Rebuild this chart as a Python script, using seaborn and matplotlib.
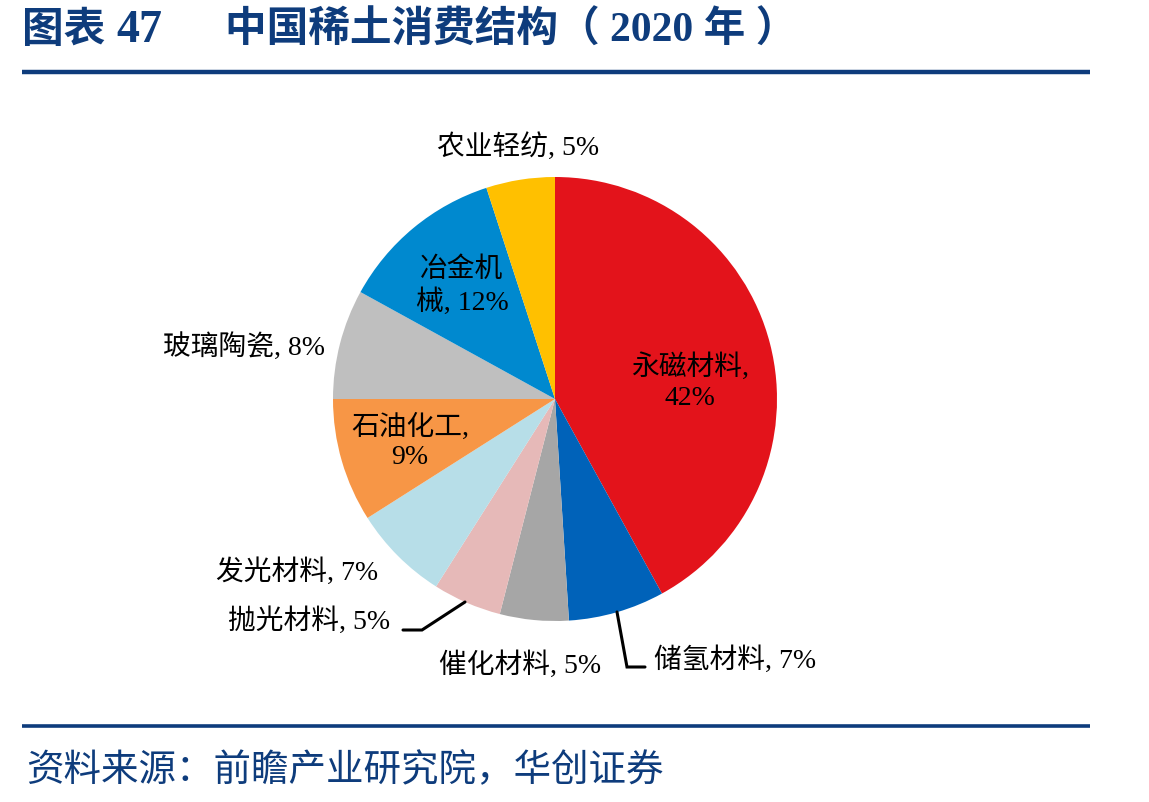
import matplotlib.pyplot as plt
import seaborn as sns

sns.set_theme(style="white")
plt.rcParams['font.family'] = ['Liberation Serif', 'Noto Sans CJK SC', 'DejaVu Sans']

# data (clockwise from 12 o'clock)
categories = ["永磁材料", "储氢材料", "催化材料", "抛光材料", "发光材料",
              "石油化工", "玻璃陶瓷", "冶金机械", "农业轻纺"]
shares = [42, 7, 5, 5, 7, 9, 8, 12, 5]
colors = ["#E3131B", "#0062B9", "#A6A6A6", "#E6B9B8", "#B7DEE8",
          "#F79646", "#BFBFBF", "#0089CF", "#FFC000"]
label_text = ["永磁材料,\n42%", "储氢材料, 7%", "催化材料, 5%", "抛光材料, 5%",
              "发光材料, 7%", "石油化工,\n9%", "玻璃陶瓷, 8%", "冶金机\n械, 12%",
              "农业轻纺, 5%"]

W, H = 1149, 803
fig = plt.figure(figsize=(W / 100, H / 100), dpi=100)
ax = fig.add_axes([0, 0, 1, 1])

# pie (y axis is flipped below, so counterclock=True runs clockwise on screen)
ax.pie(shares, colors=colors, startangle=-90, counterclock=True,
       center=(555, 400), radius=222, frame=True,
       wedgeprops=dict(linewidth=0))
ax.set_xlim(0, W)
ax.set_ylim(H, 0)
ax.set_aspect("equal")
ax.axis("off")

# label placements (text centre points, pixels)
label_pos = [(690, 382), (735, 660), (520, 665), (309, 621), (297, 572),
             (410, 442), (244, 347), (462, 287), (518, 147)]
for txt, (x, y) in zip(label_text, label_pos):
    ax.text(x, y, txt, ha="center", va="center", fontsize=20,
            color="black", linespacing=1.25)

# leader lines
ax.plot([617, 627, 645], [613, 668, 668], color="black", lw=2.2,
        solid_joinstyle="miter")
ax.plot([465, 422, 403], [603, 631, 631], color="black", lw=2.2,
        solid_joinstyle="miter")

# header / footer
navy = "#0E3C7C"
ax.text(22, 31, "图表", ha="left", va="center",
        fontsize=30, fontweight="bold", color=navy)
ax.text(116, 31, "47", ha="left", va="center",
        fontsize=33, fontweight="bold", color=navy)
ax.text(225, 31, "中国稀土消费结构（ 2020 年 ）", ha="left", va="center",
        fontsize=30, fontweight="bold", color=navy)
ax.plot([22, 1090], [73, 73], color=navy, lw=3.2, solid_capstyle="butt")
ax.plot([22, 1090], [727, 727], color=navy, lw=2.6, solid_capstyle="butt")
ax.text(26, 771, "资料来源：前瞻产业研究院，华创证券", ha="left", va="center",
        fontsize=27, color=navy, style="italic",
        family=['Noto Sans CJK SC', 'DejaVu Sans'])

fig.savefig("out.png", dpi=100)
